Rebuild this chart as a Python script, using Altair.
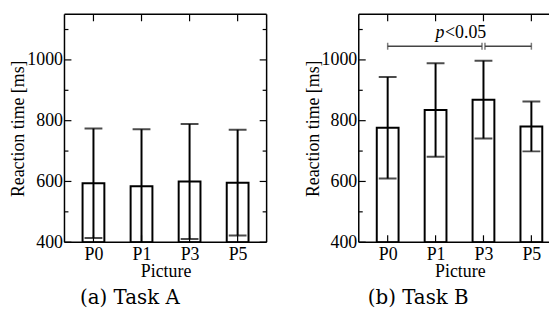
import json
import altair as alt
import pandas as pd

pictures = ["P0", "P1", "P3", "P5"]
task_a_mean = [594, 584, 600, 596]
task_a_sd = [180, 188, 189, 174]
task_b_mean = [777, 835, 869, 781]
task_b_sd = [167, 154, 128, 82]
major_ticks = [400, 600, 800, 1000]
minor_ticks = [500, 700, 900, 1100]
sig_from = ["P0", "P3"]
sig_to = ["P3", "P5"]
sig_level = 1045
sig_label = ["p", "<0.05"]
captions = ["(a) Task A", "(b) Task B"]

FONT = "Liberation Serif"
CAPFONT = "DejaVu Serif"
STEP = 51
WF, H = 4 * STEP, 230
FS = 18
YT = "Reaction time [ms]"
LW = 1.2
idx = {p: i for i, p in enumerate(pictures)}
label_expr = json.dumps(pictures) + "[datum.value]"


def panel(means, sds, caption, cap_x, width, bracket=False, right_frame=True):
    ysc = alt.Scale(domain=[400, 1150], zero=False, nice=False)
    xsc = alt.Scale(domain=[-0.5, -0.5 + width / STEP], zero=False, nice=False)
    df = pd.DataFrame({
        "i": [idx[p] for p in pictures],
        "mean": means,
        "lo": [m - s for m, s in zip(means, sds)],
        "hi": [m + s for m, s in zip(means, sds)],
    })
    base = alt.Chart(df)
    x = alt.X("i:Q", scale=xsc, title="Picture",
              axis=alt.Axis(values=list(range(len(pictures))), labelExpr=label_expr,
                            labelAngle=0, ticks=False, domain=False, grid=False,
                            labelFlush=False, labelOverlap=False,
                            labelFont=FONT, labelFontSize=FS, labelColor="black",
                            labelPadding=3, minExtent=21, maxExtent=21,
                            titleFont=FONT, titleFontSize=FS,
                            titleFontWeight="normal", titleColor="black", titlePadding=0,
                            titleX=WF / 2))
    yaxis = alt.Axis(values=major_ticks, format="d", ticks=False, domain=False, grid=False,
                     labelFont=FONT, labelFontSize=FS, labelColor="black",
                     labelPadding=2, labelFlush=False, labelOverlap=False,
                     minExtent=37, maxExtent=37,
                     titleFont=FONT, titleFontSize=FS, titleFontWeight="normal",
                     titleColor="black", titlePadding=0)
    xs = alt.X("i:Q", title="Picture")
    bars = base.mark_bar(size=22, fill="white", stroke="black", strokeWidth=2, clip=True).encode(
        x=x, y=alt.Y("mean:Q", scale=ysc, title=YT, axis=yaxis), y2=alt.datum(400))
    err = base.mark_rule(color="black", strokeWidth=2, clip=True).encode(
        x=xs, y=alt.Y("lo:Q", title=YT), y2="hi:Q")
    cap_hi = base.mark_tick(color="black", orient="horizontal", size=18, thickness=2, clip=True).encode(
        x=xs, y=alt.Y("hi:Q", title=YT))
    cap_lo = base.mark_tick(color="black", orient="horizontal", size=18, thickness=2, clip=True).encode(
        x=xs, y=alt.Y("lo:Q", title=YT))

    tmaj = alt.Chart(pd.DataFrame({"v": major_ticks}))
    tmin = alt.Chart(pd.DataFrame({"v": minor_ticks}))
    yv = alt.Y("v:Q", title=YT)
    deco = [
        tmaj.mark_rule(color="black", strokeWidth=LW).encode(y=yv, x=alt.value(0), x2=alt.value(7)),
        tmin.mark_rule(color="black", strokeWidth=LW).encode(y=yv, x=alt.value(0), x2=alt.value(4)),
    ]
    if right_frame:
        deco += [
            tmaj.mark_rule(color="black", strokeWidth=LW).encode(y=yv, x=alt.value(width - 7), x2=alt.value(width)),
            tmin.mark_rule(color="black", strokeWidth=LW).encode(y=yv, x=alt.value(width - 4), x2=alt.value(width)),
        ]
    pc = alt.Chart(pd.DataFrame({"i": list(range(len(pictures)))}))
    deco += [
        pc.mark_rule(color="black", strokeWidth=LW).encode(x=xs, y=alt.value(0), y2=alt.value(7)),
        pc.mark_rule(color="black", strokeWidth=LW).encode(x=xs, y=alt.value(H - 7), y2=alt.value(H)),
    ]
    one = alt.Chart(pd.DataFrame({"k": [0]}))
    deco += [
        one.mark_rule(color="black", strokeWidth=1.5).encode(x=alt.value(0), y=alt.value(0), y2=alt.value(H)),
        one.mark_rule(color="black", strokeWidth=1.5).encode(x=alt.value(0), x2=alt.value(width), y=alt.value(0)),
        one.mark_rule(color="black", strokeWidth=1.5).encode(x=alt.value(0), x2=alt.value(width), y=alt.value(H)),
    ]
    if right_frame:
        deco.append(one.mark_rule(color="black", strokeWidth=1.5).encode(
            x=alt.value(width), y=alt.value(0), y2=alt.value(H)))
    cap = alt.Chart(pd.DataFrame({"t": [caption]})).mark_text(
        font=CAPFONT, fontSize=20, color="black", baseline="middle", align="center").encode(
        text="t:N", x=alt.value(cap_x), y=alt.value(286))
    layers = [bars, err, cap_hi, cap_lo] + deco + [cap]

    if bracket:
        seg = pd.DataFrame({"a": [idx[p] for p in sig_from], "b": [idx[p] for p in sig_to],
                            "y": [sig_level] * 2})
        c = "#444444"
        xa = alt.X("a:Q", title="Picture")
        seg1 = alt.Chart(seg.iloc[[0]]).mark_rule(color=c, strokeWidth=1.5, x2Offset=-1.5).encode(
            x=xa, x2="b:Q", y=alt.Y("y:Q", title=YT))
        seg2 = alt.Chart(seg.iloc[[1]]).mark_rule(color=c, strokeWidth=1.5, xOffset=1.5).encode(
            x=xa, x2="b:Q", y=alt.Y("y:Q", title=YT))
        ends = pd.DataFrame({"p": [idx[sig_from[0]], idx[sig_to[-1]]], "y": [sig_level] * 2})
        mid = pd.DataFrame({"p": [idx[sig_to[0]]], "y": [sig_level]})
        xp = alt.X("p:Q", title="Picture")
        e1 = alt.Chart(ends).mark_tick(color=c, orient="vertical", size=7, thickness=1.5).encode(
            x=xp, y=alt.Y("y:Q", title=YT))
        e2 = alt.Chart(mid).mark_tick(color=c, orient="vertical", size=7, thickness=1.5, xOffset=-1.5).encode(
            x=xp, y=alt.Y("y:Q", title=YT))
        e3 = alt.Chart(mid).mark_tick(color=c, orient="vertical", size=7, thickness=1.5, xOffset=1.5).encode(
            x=xp, y=alt.Y("y:Q", title=YT))
        lab = pd.DataFrame({"p": [idx["P1"]], "y": [sig_level], "t1": [sig_label[0]], "t2": [sig_label[1]]})
        t1 = alt.Chart(lab).mark_text(font=FONT, fontSize=FS, fontStyle="italic", color="black",
                                      align="right", baseline="alphabetic", dx=9, dy=-8).encode(
            x=xp, y=alt.Y("y:Q", title=YT), text="t1:N")
        t2 = alt.Chart(lab).mark_text(font=FONT, fontSize=FS, color="black",
                                      align="left", baseline="alphabetic", dx=9.5, dy=-8).encode(
            x=xp, y=alt.Y("y:Q", title=YT), text="t2:N")
        layers += [seg1, seg2, e1, e2, e3, t1, t2]

    return alt.layer(*layers).properties(width=width, height=H)


left = panel(task_a_mean, task_a_sd, captions[0], 66, WF)
right = panel(task_b_mean, task_b_sd, captions[1], 60, 192, bracket=True, right_frame=False)

chart = alt.hconcat(left, right, spacing=37).properties(
    padding={"left": 2, "top": 4, "right": 0, "bottom": 0}
).configure_view(strokeWidth=0)

chart.save("out.html", embed_options={"renderer": "svg", "actions": False})
